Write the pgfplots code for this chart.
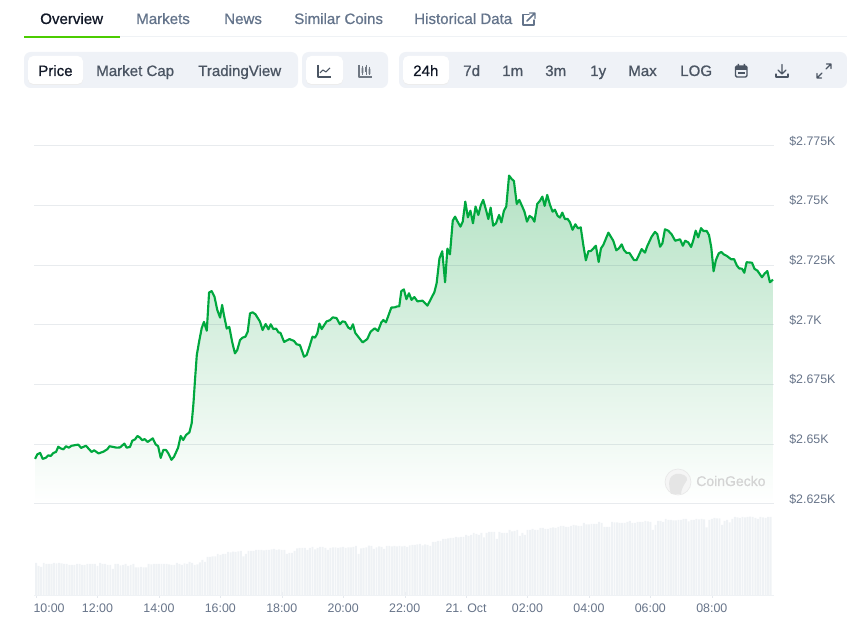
\documentclass[border=0pt]{standalone}
\usepackage{fontspec}
\setmainfont{Liberation Sans}
\newfontfamily\medfont[FakeBold=0.8]{Liberation Sans}
\usepackage{pgfplots}
\usepackage{pgfplotstable}
\pgfplotsset{compat=1.18}

% x in 5 minute steps after 10:00
\pgfplotstableread{
i price
-0.4 2643.9
0.5 2645.8
1.6 2646.4
2.6 2643.9
3.9 2644.4
4.8 2645.4
5.7 2645.1
6.8 2646.4
7.8 2646.8
8.7 2649.0
9.6 2648.3
10.7 2647.9
11.7 2649.2
12.8 2648.6
13.9 2649.4
16.5 2649.9
17.6 2648.5
19.5 2649.4
21.7 2646.8
22.7 2647.5
24.4 2646.2
26.3 2646.9
27.9 2648.0
28.7 2649.2
31.5 2648.6
32.8 2648.7
34.5 2650.3
35.4 2648.6
36.7 2648.9
37.6 2651.5
38.7 2652.1
39.6 2653.5
40.6 2652.8
41.5 2651.7
42.4 2652.2
43.6 2651.0
45.6 2652.5
46.7 2650.0
47.7 2649.2
48.7 2644.3
49.7 2647.6
50.8 2647.6
51.7 2646.2
52.9 2643.5
53.9 2644.8
55.5 2648.6
56.5 2653.5
57.5 2651.8
58.6 2653.9
59.9 2655.0
60.8 2658.8
61.5 2667.2
62.1 2677.0
62.8 2687.4
63.7 2693.0
64.7 2698.6
65.6 2701.3
66.7 2697.6
67.6 2713.6
68.6 2714.2
69.7 2711.9
70.8 2706.3
71.9 2703.1
72.7 2708.4
73.4 2704.2
74.5 2698.5
75.5 2699.2
76.6 2693.0
77.7 2688.1
78.6 2689.5
79.7 2693.7
80.7 2694.7
81.8 2695.1
82.7 2697.2
83.6 2704.9
84.6 2705.3
85.7 2704.5
87.5 2701.4
88.5 2697.9
89.7 2700.4
90.8 2698.2
91.7 2700.3
92.7 2698.3
93.8 2698.5
94.7 2696.9
95.5 2696.7
96.9 2692.9
99.0 2694.1
100.8 2693.3
101.8 2691.9
103.1 2691.6
104.7 2686.7
105.7 2687.4
106.8 2690.9
108.0 2695.1
109.0 2694.7
109.9 2696.5
110.7 2700.6
111.6 2698.3
113.5 2701.5
114.8 2702.0
115.9 2703.2
117.4 2702.9
118.7 2700.3
119.7 2701.5
120.7 2701.3
122.0 2698.9
122.9 2698.3
123.8 2700.3
124.7 2696.7
127.6 2692.7
129.4 2694.1
130.7 2697.2
132.3 2698.6
133.6 2697.5
134.9 2701.1
135.7 2702.1
136.7 2701.1
138.8 2707.3
140.2 2707.4
141.1 2707.8
141.9 2707.8
142.7 2714.2
143.7 2714.9
144.7 2710.8
145.7 2713.3
146.7 2710.5
147.8 2711.7
149.0 2709.9
151.0 2710.2
152.9 2708.1
155.6 2713.7
156.5 2717.5
157.6 2727.9
158.7 2730.9
159.8 2717.9
160.7 2732.0
161.7 2729.6
162.8 2743.7
163.7 2745.4
164.7 2743.3
165.8 2741.2
166.7 2743.3
167.7 2751.7
168.7 2745.1
169.7 2747.9
170.7 2742.6
171.7 2749.6
172.8 2746.1
173.8 2750.3
174.7 2752.4
175.8 2748.2
176.7 2744.4
177.6 2749.2
178.6 2741.6
179.7 2742.6
180.9 2746.1
181.8 2743.0
182.8 2747.9
183.7 2749.6
184.8 2762.6
185.8 2761.2
186.7 2760.3
187.8 2750.7
188.8 2752.4
189.8 2750.0
190.8 2747.5
191.8 2743.3
192.8 2745.7
193.8 2745.0
194.7 2743.3
195.8 2750.7
196.9 2752.1
197.8 2753.8
198.7 2749.9
199.7 2754.5
200.8 2750.3
201.8 2747.5
202.7 2748.3
203.8 2745.7
204.7 2745.0
205.6 2747.1
206.6 2744.4
207.7 2744.4
208.6 2743.0
209.6 2739.9
210.7 2742.2
211.7 2740.5
212.8 2740.9
213.8 2733.5
214.8 2727.1
215.8 2730.9
216.8 2731.0
218.7 2733.2
219.8 2726.4
220.7 2732.1
221.6 2733.5
223.6 2738.7
225.5 2735.3
226.7 2731.3
227.7 2732.1
228.8 2733.8
229.7 2731.4
230.7 2730.2
231.8 2730.2
233.6 2727.2
234.6 2727.2
236.6 2731.8
237.9 2730.3
238.8 2733.1
240.5 2737.0
241.8 2739.0
242.7 2738.1
243.8 2732.8
244.7 2734.2
245.7 2740.1
247.0 2739.5
248.3 2738.0
249.7 2735.3
251.6 2735.9
252.7 2733.2
253.6 2735.3
254.8 2734.6
255.9 2732.7
256.8 2735.6
257.7 2739.5
258.7 2736.7
259.8 2740.6
260.7 2739.4
262.0 2739.4
262.9 2737.7
263.8 2732.5
264.7 2722.5
265.6 2727.2
266.7 2730.0
267.7 2730.6
268.8 2729.5
269.8 2729.0
271.6 2727.5
272.7 2727.6
273.8 2724.9
274.7 2723.7
275.8 2723.6
276.7 2721.9
277.6 2726.3
279.7 2726.1
280.7 2723.5
281.8 2722.8
283.6 2720.0
284.6 2721.5
285.7 2722.6
286.7 2717.9
287.9 2719.0
}\pricetab

\definecolor{gridc}{RGB}{30,60,90}
\definecolor{linec}{RGB}{0,168,62}
\definecolor{fillc}{RGB}{180,226,196}
\definecolor{volc}{RGB}{239,242,245}
\definecolor{axisc}{RGB}{228,232,237}
\definecolor{tickc}{RGB}{103,116,137}
\definecolor{panelc}{RGB}{239,242,247}
\definecolor{darkc}{RGB}{17,24,39}
\definecolor{btnc}{RGB}{75,85,99}
\definecolor{tabc}{RGB}{100,116,139}
\definecolor{tabline}{RGB}{75,204,0}

\begin{document}
\begin{tikzpicture}
\useasboundingbox (0,0) rectangle (635.25pt,473.25pt);

% volume bars, the chart gives no scale for them
\begin{axis}[
  at={(25.5pt,27pt)},anchor=south west,
  scale only axis,width=555pt,height=60pt,
  xmin=-0.8,xmax=288.3,ymin=0,ymax=80,
  axis y line=none,axis x line=bottom,
  axis line style={volc,-},
  xtick={0,24,48,72,96,120,144,168,192,216,240,264},
  xticklabels={\hspace*{19.5pt}10:00,12:00,14:00,16:00,18:00,20:00,22:00,21. Oct,02:00,04:00,06:00,08:00},
  major tick length=4.5pt,
  tick style={color=axisc},
  xticklabel style={font=\fontsize{9.3}{11}\selectfont,text=tickc,inner sep=0pt,yshift=-4.5pt},
  xtick pos=lower,
]
\addplot[ybar,bar width=1.45pt,bar shift=0pt,fill=volc,draw=none] coordinates {
(0,32)(1,29)(2,28)(3,32)(4,31)(5,31)(6,31)(7,32)(8,31.5)(9,32)(10,31.5)(11,31)
(12,31)(13,30)(14,30)(15,30)(16,31)(17,31)(18,30)(19,30)(20,31)(21,31)(22,31)(23,31)
(24,29)(25,32)(26,31)(27,31)(28,30)(29,30)(30,26)(31,31)(32,31)(33,29.5)(34,30)(35,31)
(36,29)(37,30)(38,31)(39,27.5)(40,27.5)(41,28)(42,27.5)(43,27.5)(44,31)(45,30.5)(46,31)(47,31)
(48,31)(49,31)(50,31)(51,31)(52,30.5)(53,30)(54,30)(55,32)(56,31)(57,30)(58,31.5)(59,31)
(60,33)(61,32)(62,30)(63,30.5)(64,32.5)(65,35)(66,33)(67,38)(68,38)(69,38.5)(70,38.5)(71,41)
(72,40)(73,41)(74,41)(75,43)(76,42.5)(77,43.3)(78,43)(79,43.5)(80,44)(81,38.5)(82,41)(83,44)
(84,44)(85,44)(86,45)(87,45)(88,45)(89,44.5)(90,45)(91,45)(92,45.5)(93,46)(94,45)(95,45.5)
(96,45)(97,45)(98,41)(99,42)(100,42)(101,44)(102,46.7)(103,47)(104,47)(105,47)(106,45)(107,47)
(108,48)(109,45.7)(110,47)(111,48)(112,48)(113,47)(114,45)(115,47)(116,47.5)(117,47.5)(118,47)(119,47.5)
(120,48)(121,47)(122,47.5)(123,47.5)(124,48)(125,49)(126,41)(127,46.7)(128,47)(129,47.5)(130,49.3)(131,49)
(132,46)(133,47.5)(134,48.7)(135,48)(136,46)(137,49)(138,49)(139,48.5)(140,49)(141,48.7)(142,49)(143,48.5)
(144,49)(145,48)(146,49.5)(147,50)(148,50)(149,50.5)(150,51)(151,49.5)(152,50.5)(153,50)(154,49)(155,53)
(156,53)(157,54)(158,54)(159,56)(160,56)(161,56.5)(162,57)(163,57)(164,58)(165,57.5)(166,58)(167,58)
(168,60)(169,59)(170,60)(171,62)(172,61)(173,60)(174,62)(175,57.7)(176,62)(177,63)(178,63)(179,63)
(180,56)(181,63)(182,62)(183,62)(184,62)(185,65)(186,63.5)(187,64)(188,65)(189,59)(190,62)(191,60)
(192,65)(193,65)(194,66)(195,65)(196,65)(197,67)(198,67)(199,66)(200,66)(201,67)(202,67.7)(203,67)
(204,68)(205,69)(206,69)(207,68)(208,68)(209,69)(210,70)(211,69.5)(212,69)(213,69)(214,72)(215,70.5)
(216,70.5)(217,71)(218,71)(219,71)(220,73)(221,72)(222,68)(223,68)(224,68)(225,73)(226,72.5)(227,72.5)
(228,72)(229,72)(230,72)(231,73)(232,74)(233,72)(234,72)(235,73)(236,73)(237,73)(238,74)(239,73.5)
(240,73)(241,65)(242,70)(243,74)(244,74)(245,73)(246,76)(247,75)(248,75)(249,74.5)(250,74.5)(251,75)
(252,75)(253,76)(254,76)(255,73.7)(256,75)(257,75)(258,76)(259,75.5)(260,76)(261,75.5)(262,67.7)(263,75)
(264,76)(265,77)(266,76.5)(267,76.5)(268,70)(269,74)(270,75)(271,72.7)(272,76)(273,78)(274,77.5)(275,77)
(276,78)(277,77.5)(278,78)(279,78.3)(280,78)(281,77)(282,76)(283,78)(284,77.5)(285,77)(286,78)(287,78)
};
\end{axis}

% price
\begin{axis}[
  at={(25.5pt,95.25pt)},anchor=south west,
  scale only axis,width=555pt,height=268.5pt,
  xmin=-0.8,xmax=288.3,ymin=2625,ymax=2775,
  axis x line=none,axis y line=right,
  axis line style={draw=none},
  ytick={2625,2650,2675,2700,2725,2750,2775},
  yticklabels={\$2.625K,\$2.65K,\$2.675K,\$2.7K,\$2.725K,\$2.75K,\$2.775K},
  major tick length=0pt,
  yticklabel style={font=\fontsize{9.3}{11}\selectfont,text=tickc,anchor=west,inner sep=0pt,xshift=11.25pt,yshift=3.75pt},
  clip=false,
]
\addplot[draw=none,shade,top color=fillc,bottom color=white,forget plot]
  table[x=i,y=price] {\pricetab} \closedcycle;
\addplot[gridc,opacity=0.1,line width=0.75pt] coordinates {(-0.8,2625)(288.3,2625)};
\addplot[gridc,opacity=0.1,line width=0.75pt] coordinates {(-0.8,2650)(288.3,2650)};
\addplot[gridc,opacity=0.1,line width=0.75pt] coordinates {(-0.8,2675)(288.3,2675)};
\addplot[gridc,opacity=0.1,line width=0.75pt] coordinates {(-0.8,2700)(288.3,2700)};
\addplot[gridc,opacity=0.1,line width=0.75pt] coordinates {(-0.8,2725)(288.3,2725)};
\addplot[gridc,opacity=0.1,line width=0.75pt] coordinates {(-0.8,2750)(288.3,2750)};
\addplot[gridc,opacity=0.1,line width=0.75pt] coordinates {(-0.8,2775)(288.3,2775)};
\addplot[linec,line width=1.6pt,line join=round] table[x=i,y=price] {\pricetab};
\end{axis}

% page furniture, in reference pixels
\begin{scope}[x=0.75pt,y=-0.75pt,yshift=473.25pt]
  \tikzset{lab/.style={anchor=base west,inner sep=0pt,font=\medfont\fontsize{11.3}{12}\selectfont}}
  % tabs
  \fill[volc] (24,36.5) rectangle (847,37.5);
  \fill[tabline] (24,36) rectangle (120,38);
  \node[lab,text=darkc] at (40,24) {Overview};
  \node[lab,text=tabc] at (136,24) {Markets};
  \node[lab,text=tabc] at (224,24) {News};
  \node[lab,text=tabc] at (294,24) {Similar Coins};
  \node[lab,text=tabc] at (414,24) {Historical Data};
  \draw[tabc,line width=1.1pt,line cap=round,line join=round] (529,14.5)--(523,14.5)--(523,25)--(534,25)--(534,20);
  \draw[tabc,line width=1.1pt,line cap=round,line join=round] (527,21)--(534.5,13.5) (529.5,13)--(535,13)--(535,18.5);
  % button groups
  \fill[panelc,rounded corners=5pt] (24,52) rectangle (298,88);
  \fill[panelc,rounded corners=5pt] (302,52) rectangle (388,88);
  \fill[panelc,rounded corners=5pt] (399,52) rectangle (847,88);
  \fill[black!7,rounded corners=4pt] (28,57) rectangle (83,85);
  \fill[black!7,rounded corners=4pt] (306,57) rectangle (343,85);
  \fill[black!7,rounded corners=4pt] (403,57) rectangle (449,85);
  \fill[white,rounded corners=4pt] (28,56) rectangle (83,84);
  \fill[white,rounded corners=4pt] (306,56) rectangle (343,84);
  \fill[white,rounded corners=4pt] (403,56) rectangle (449,84);
  \node[lab,text=darkc] at (38,76) {Price};
  \node[lab,text=btnc] at (96,76) {Market Cap};
  \node[lab,text=btnc] at (198,76) {TradingView};
  \node[lab,text=darkc] at (413,76) {24h};
  \node[lab,text=btnc] at (463,76) {7d};
  \node[lab,text=btnc] at (502,76) {1m};
  \node[lab,text=btnc] at (545,76) {3m};
  \node[lab,text=btnc] at (590,76) {1y};
  \node[lab,text=btnc] at (628,76) {Max};
  \node[lab,text=btnc] at (680,76) {LOG};
  % line and candle icons
  \draw[btnc,line width=0.8pt,line join=round] (318,65)--(318,77)--(331,77);
  \draw[btnc,line width=0.8pt,line join=round] (320,73)--(323,70)--(326,72)--(330,68);
  \draw[btnc!80,line width=0.8pt,line join=round] (359,65)--(359,77)--(372,77);
  \draw[btnc!80,line width=0.5pt] (362.5,66)--(362.5,75) (366,65)--(366,75) (369.5,67)--(369.5,75);
  \fill[btnc!80] (361.7,68) rectangle (363.3,73) (365.2,67) rectangle (366.8,72) (368.7,69) rectangle (370.3,74);
  % calendar
  \draw[btnc,line width=1pt,rounded corners=1pt] (735.5,66) rectangle (747,77);
  \fill[btnc] (735.5,66) rectangle (747,70);
  \fill[btnc] (737.5,64) rectangle (739,66) (743.5,64) rectangle (745,66);
  \fill[btnc] (738,72.5) rectangle (744.5,74);
  % download
  \draw[btnc,line width=0.9pt,line cap=round,line join=round] (782,64.5)--(782,73.5) (778,70)--(782,74)--(786,70);
  \draw[btnc,line width=0.9pt,line cap=round,line join=round] (776,74)--(776,77)--(788,77)--(788,74);
  % expand
  \draw[btnc,line width=0.9pt,line cap=round,line join=round] (826,69)--(831,64) (826.5,64)--(831,64)--(831,68.5);
  \draw[btnc,line width=0.9pt,line cap=round,line join=round] (822,73)--(817,78) (817,73.5)--(817,78)--(821.5,78);
  % watermark
  \fill[black!4] (678,482) circle (13);
  \draw[black!9,line width=0.5pt] (678,482) circle (13);
  \fill[black!10] (671,494)..controls (668,484) and (668,476) ..(676,474)..controls (682,473) and (688,476) ..(687,480)..controls (685,484) and (682,486)..(681,494)--cycle;
  \node[anchor=base west,inner sep=0pt,text=black!17,font=\medfont\fontsize{10.5}{12}\selectfont] at (696,486) {CoinGecko};
\end{scope}
\end{tikzpicture}
\end{document}
